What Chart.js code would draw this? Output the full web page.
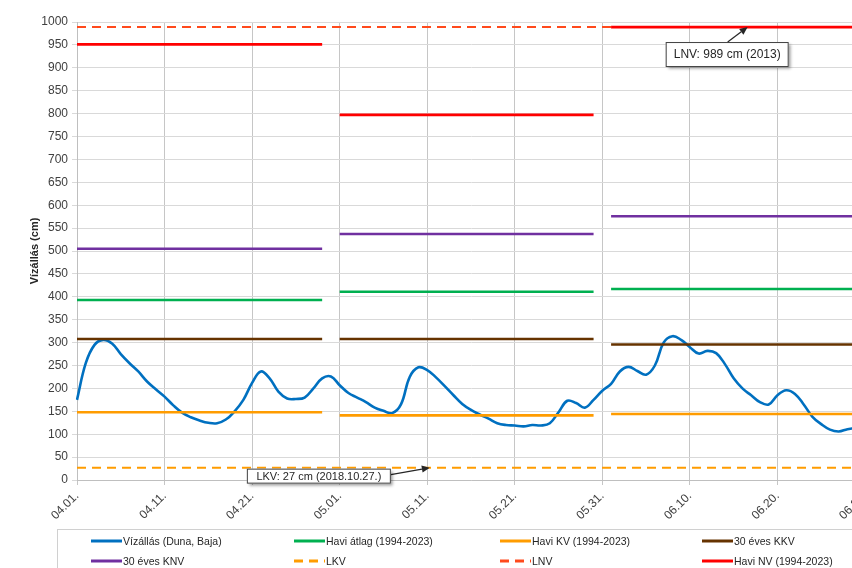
<!DOCTYPE html>
<html><head><meta charset="utf-8">
<script src="https://cdn.jsdelivr.net/npm/chart.js@4.4.1/dist/chart.umd.min.js"></script>
<style>
html,body{margin:0;padding:0;background:#fff;overflow:hidden;width:852px;height:568px}
#wrap{position:relative;width:880px;height:568px}
#legend{position:absolute;left:57px;top:529px;width:900px;height:60px;border:1px solid #d0d0d0;font-family:"Liberation Sans",Arial,sans-serif;font-size:10.5px;color:#262626;box-sizing:border-box}
.item{position:absolute;height:14px;line-height:14px;white-space:nowrap}
.item svg{position:absolute;left:0;top:5px}
.item span{position:absolute;left:32px;top:0}
</style></head>
<body><div id="wrap"><canvas id="c"></canvas><div id="legend"></div></div>
<script>
const categories = [
"04.01.","04.02.","04.03.","04.04.","04.05.","04.06.","04.07.","04.08.","04.09.","04.10.",
"04.11.","04.12.","04.13.","04.14.","04.15.","04.16.","04.17.","04.18.","04.19.","04.20.",
"04.21.","04.22.","04.23.","04.24.","04.25.","04.26.","04.27.","04.28.","04.29.","04.30.",
"05.01.","05.02.","05.03.","05.04.","05.05.","05.06.","05.07.","05.08.","05.09.","05.10.",
"05.11.","05.12.","05.13.","05.14.","05.15.","05.16.","05.17.","05.18.","05.19.","05.20.",
"05.21.","05.22.","05.23.","05.24.","05.25.","05.26.","05.27.","05.28.","05.29.","05.30.",
"05.31.","06.01.","06.02.","06.03.","06.04.","06.05.","06.06.","06.07.","06.08.","06.09.",
"06.10.","06.11.","06.12.","06.13.","06.14.","06.15.","06.16.","06.17.","06.18.","06.19.",
"06.20.","06.21.","06.22.","06.23.","06.24.","06.25.","06.26.","06.27.","06.28.","06.29.",
"06.30."];

const vizallas = [
175,255,295,306,298,275,255,237,215,198,
182,163,147,137,130,125,124,132,150,175,
212,237,222,193,178,177,180,200,222,226,
207,190,180,170,158,151,146,165,225,246,
240,224,205,185,166,153,143,134,124,120,
119,117,120,119,124,148,173,168,158,175,
195,210,237,247,238,230,250,300,314,306,
290,276,282,277,253,222,200,185,170,165,
185,196,188,165,138,122,110,106,111,113,
112];

// monthly reference values: April, May, June
const haviAtlag = [393, 411, 417];
const haviKV    = [148, 141, 144];
const kkv30     = [308, 308, 296];
const knv30     = [505, 537, 576];
const haviNV    = [951, 797, 989];
const LKV = 27;
const LNV = 989;
// category index ranges covered by each monthly segment
const monthFirst = [0, 30, 61];
const monthLast  = [28, 59, 90];

const yTicks = {min:0, max:1000, step:50};
const tickEvery = 10;

function monthly(vals){
  const arr = categories.map(()=>null);
  vals.forEach((v,m)=>{ for(let i=monthFirst[m];i<=monthLast[m];i++) arr[i]=v; });
  return arr;
}
const constant = v => categories.map(()=>v);

const seriesDefs = [
  {label:'Vízállás (Duna, Baja)', data:vizallas, color:'#0070C0', width:2.6, tension:0.4},
  {label:'Havi átlag (1994-2023)', data:monthly(haviAtlag), color:'#00B050', width:2.6},
  {label:'Havi KV (1994-2023)', data:monthly(haviKV), color:'#FF9C00', width:2.6},
  {label:'30 éves KKV', data:monthly(kkv30), color:'#663300', width:2.6},
  {label:'30 éves KNV', data:monthly(knv30), color:'#7030A0', width:2.6},
  {label:'LKV', data:constant(LKV), color:'#FF9C00', width:2, dash:[9,6]},
  {label:'LNV', data:constant(LNV), color:'#FF4A1C', width:2, dash:[9,6]},
  {label:'Havi NV (1994-2023)', data:monthly(haviNV), color:'#FF0000', width:2.8}
];

const datasets = seriesDefs.map((s,i)=>({
  label:s.label, data:s.data, borderColor:s.color, backgroundColor:s.color,
  borderWidth:s.width, borderDash:s.dash||[], pointRadius:0, pointHoverRadius:0,
  tension:s.tension||0, fill:false, spanGaps:false, order:seriesDefs.length-i,
  borderCapStyle:'butt'
}));

const callouts = [
  {text:'LNV: 989 cm (2013)', at:76.6, value:LNV, dx:-82, dy:15, w:123, h:25, font:'12px "Liberation Sans", Arial, sans-serif', ax:-20, ay:15},
  {text:'LKV: 27 cm (2018.10.27.)', at:40.3, value:LKV, dx:-183, dy:1, w:144, h:15, font:'11px "Liberation Sans", Arial, sans-serif', ax:-39, ay:7}
];

const calloutPlugin = {
  id:'callouts',
  afterDatasetsDraw(chart){
    const {ctx} = chart; const x = chart.scales.x, y = chart.scales.y;
    callouts.forEach(c=>{
      const tx = x.getPixelForValue(c.at), ty = y.getPixelForValue(c.value);
      const bx = tx + c.dx, by = ty + c.dy;
      ctx.save();
      const sx = tx + c.ax, sy = ty + c.ay;
      ctx.strokeStyle = '#262626'; ctx.fillStyle = '#262626'; ctx.lineWidth = 1.2;
      const ang = Math.atan2(ty - sy, tx - sx);
      const hl = 8, hw = 3.5;
      const ex = tx - Math.cos(ang)*hl, ey = ty - Math.sin(ang)*hl;
      ctx.beginPath(); ctx.moveTo(sx, sy); ctx.lineTo(ex, ey); ctx.stroke();
      ctx.beginPath(); ctx.moveTo(tx, ty);
      ctx.lineTo(ex + Math.sin(ang)*hw, ey - Math.cos(ang)*hw);
      ctx.lineTo(ex - Math.sin(ang)*hw, ey + Math.cos(ang)*hw);
      ctx.closePath(); ctx.fill();
      ctx.shadowColor = 'rgba(0,0,0,0.4)'; ctx.shadowOffsetX = 2; ctx.shadowOffsetY = 2; ctx.shadowBlur = 3;
      ctx.fillStyle = '#ffffff'; ctx.fillRect(bx, by, c.w, c.h);
      ctx.shadowColor = 'transparent';
      ctx.strokeStyle = '#404040'; ctx.lineWidth = 1;
      ctx.strokeRect(bx + 0.5, by + 0.5, c.w - 1, c.h - 1);
      ctx.fillStyle = '#262626'; ctx.font = c.font; ctx.textAlign = 'center'; ctx.textBaseline = 'middle';
      ctx.fillText(c.text, bx + c.w/2, by + c.h/2 + 0.5);
      ctx.restore();
    });
  }
};

new Chart(document.getElementById('c'), {
  type:'line',
  data:{labels:categories, datasets},
  plugins:[calloutPlugin],
  options:{
    responsive:true, maintainAspectRatio:false, animation:false, devicePixelRatio:1,
    events:[],
    layout:{padding:{top:22, right:15, bottom:40, left:0}},
    plugins:{legend:{display:false}, tooltip:{enabled:false}},
    scales:{
      x:{
        offset:false,
        grid:{color:'#c6c6c6', lineWidth:1, tickLength:5, drawOnChartArea:true},
        border:{color:'#bfbfbf'},
        ticks:{autoSkip:false, maxRotation:45, minRotation:45, color:'#404040', padding:4,
          font:{family:'"Liberation Sans", Arial, sans-serif', size:12},
          callback:(v,i)=> i % tickEvery === 0 ? categories[i] : null},
        afterFit:s=>{ s.height = 48; }
      },
      y:{
        min:yTicks.min, max:yTicks.max,
        grid:{color:'#d9d9d9', lineWidth:1, tickLength:5},
        border:{color:'#bfbfbf'},
        ticks:{stepSize:yTicks.step, color:'#404040', padding:4,
          font:{family:'"Liberation Sans", Arial, sans-serif', size:12},
          callback:v=>String(v)},
        title:{display:true, text:'Vízállás (cm)', color:'#262626', padding:{top:28, bottom:0},
          font:{family:'"Liberation Sans", Arial, sans-serif', size:11, weight:'bold'}},
        afterFit:s=>{ s.width = 77; }
      }
    }
  }
});

const legCols = [33, 236, 442, 644];
const legRows = [4, 24];
const leg = document.getElementById('legend');
seriesDefs.forEach((s,i)=>{
  const d = document.createElement('div'); d.className='item';
  d.style.left = legCols[i%4]+'px'; d.style.top = legRows[Math.floor(i/4)]+'px';
  const dash = s.dash ? 'stroke-dasharray="9 6"' : '';
  d.innerHTML = '<svg width="31" height="4"><line x1="0" y1="2" x2="31" y2="2" stroke="'+s.color+'" stroke-width="3" '+dash+'/></svg><span></span>';
  d.querySelector('span').textContent = s.label;
  leg.appendChild(d);
});
</script>
</body></html>
